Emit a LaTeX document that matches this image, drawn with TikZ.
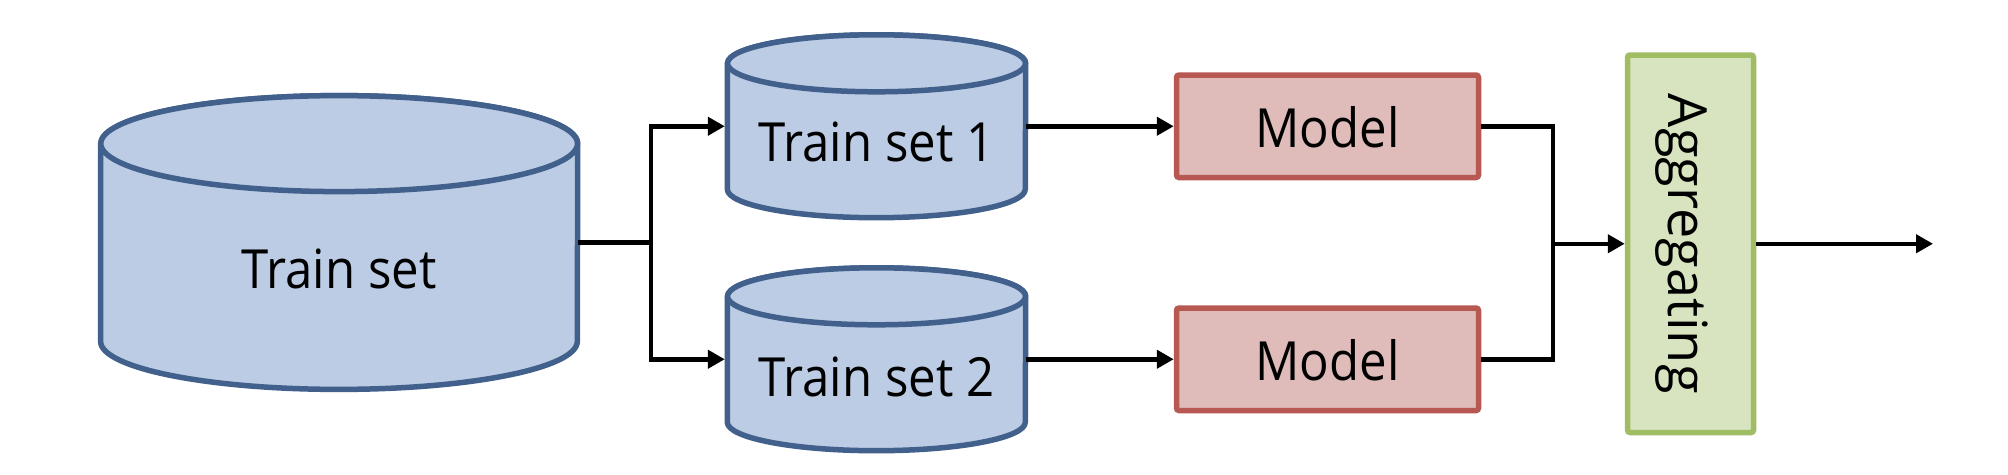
\documentclass[tikz,border=0pt]{standalone}
\usepackage{fontspec}
\usepackage{graphicx}
\setmainfont{Open Sans}[FakeStretch=0.91]
\newfontfamily\aggfont{Open Sans}
\usetikzlibrary{arrows.meta,backgrounds}
\definecolor{cylfill}{RGB}{187,204,228}
\definecolor{cylline}{RGB}{66,96,140}
\definecolor{modfill}{RGB}{223,187,186}
\definecolor{modline}{RGB}{183,88,83}
\definecolor{aggfill}{RGB}{216,228,191}
\definecolor{aggline}{RGB}{160,189,100}
\tikzset{
  lbl/.style={font=\fontsize{54pt}{60pt}\selectfont, inner sep=0pt},
  cyl/.style={fill=cylfill, draw=cylline, line width=5.5pt, line join=round},
  modelbox/.style={lbl, draw=modline, fill=modfill, line width=5.5pt, rounded corners=2.5pt,
    minimum width=302pt, minimum height=102.5pt},
  aggbox/.style={lbl, font=\aggfont\fontsize{54pt}{60pt}\selectfont, draw=aggline, fill=aggfill,
    line width=5.5pt, rounded corners=2.5pt, minimum width=126pt, minimum height=377.5pt},
  conn/.style={line width=4.5pt, black, line join=miter},
  arr/.style={conn, -{Triangle[length=17pt,width=18pt]}},
}
\newcommand\lowtext[2]{\raisebox{-#1}[0pt][0pt]{#2}}
\newcommand\drawcyl[3]{%
  \begin{pgfonlayer}{background}
    \draw[cyl] (#1.north west) -- (#1.south west)
      arc[start angle=180, end angle=360, x radius=#2, y radius=#3]
      -- (#1.north east)
      arc[start angle=0, end angle=180, x radius=#2, y radius=#3] -- cycle;
    \draw[cyl] (#1.north) ellipse[x radius=#2, y radius=#3];
  \end{pgfonlayer}}
\begin{document}
\begin{tikzpicture}[x=1pt,y=-1pt]
\begin{pgfonlayer}{background}
  \fill[white] (0,0) rectangle (2008,474);
\end{pgfonlayer}
\useasboundingbox (0,0) rectangle (2008,474);

% cylinders
\node[lbl, minimum width=476.7pt, minimum height=197.4pt] (big) at (339.15,242.5) {\lowtext{45.8pt}{Train set}};
\node[lbl, minimum width=298pt, minimum height=125.5pt] (ts1) at (876.5,126.25) {\lowtext{35.5pt}{Train set 1}};
\node[lbl, minimum width=298pt, minimum height=125.5pt] (ts2) at (876.5,359.25) {\lowtext{37.5pt}{Train set 2}};
\drawcyl{big}{238.35pt}{48pt}
\drawcyl{ts1}{149pt}{28.5pt}
\drawcyl{ts2}{149pt}{28.5pt}

% models
\node[modelbox] (m1) at (1327.5,126.25) {\lowtext{20.75pt}{Model}};
\node[modelbox] (m2) at (1327.5,359.25) {\lowtext{20.75pt}{Model}};

% aggregating
\node[aggbox] (agg) at (1690.5,243.75) {\rotatebox{-90}{\lowtext{22.5pt}{Aggregating}}};

% connectors
\coordinate (split) at (651,242.5);
\coordinate (merge) at (1553,243.75);
\coordinate (out) at (1933,243.75);
\draw[conn] (big.east) -- (split);
\draw[arr, shorten >=2.5pt] (split) |- (ts1.west);
\draw[arr, shorten >=2.5pt] (split) |- (ts2.west);
\draw[arr] (ts1.east) -- (m1.west);
\draw[arr] (ts2.east) -- (m2.west);
\draw[conn] (m1.east) -| (merge);
\draw[conn] (m2.east) -| (merge);
\draw[arr] (merge) -- (agg.west);
\draw[arr] (agg.east) -- (out);
\end{tikzpicture}
\end{document}
